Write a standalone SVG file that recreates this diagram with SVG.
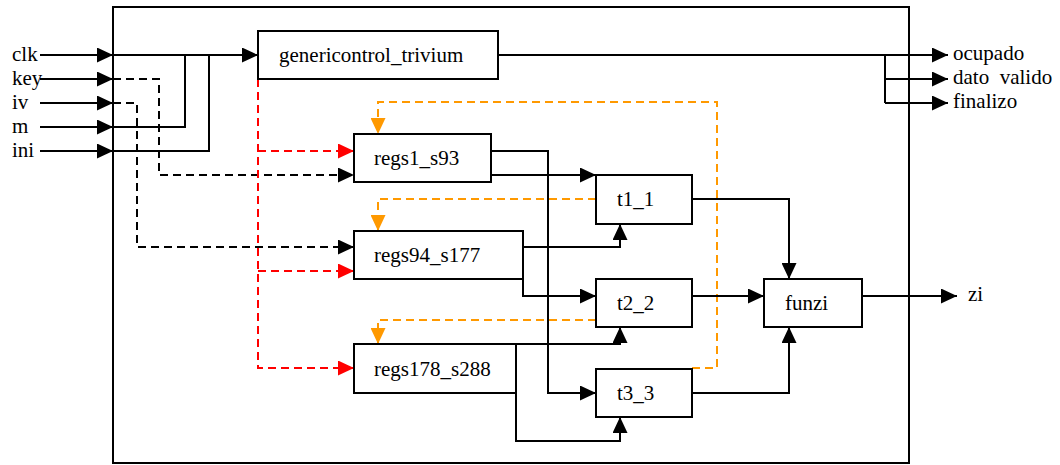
<svg xmlns="http://www.w3.org/2000/svg" width="1060" height="465" viewBox="0 0 1060 465" font-family="'Liberation Serif', serif">
<style>
text{font-family:'Liberation Serif',serif;font-size:21px;fill:#000;white-space:pre}
.box{fill:#fff;stroke:#000;stroke-width:2}
.w{fill:none;stroke:#000;stroke-width:2}
.kd{fill:none;stroke:#000;stroke-width:2;stroke-dasharray:8 5}
.rd{fill:none;stroke:#f00;stroke-width:2;stroke-dasharray:8 5}
.od{fill:none;stroke:#f90;stroke-width:2;stroke-dasharray:8 5}
</style>
<defs>
<marker id="ak" markerUnits="userSpaceOnUse" markerWidth="16" markerHeight="15" refX="16" refY="7.5" orient="auto"><path d="M0,0L16,7.5L0,15z" fill="#000"/></marker>
<marker id="ar" markerUnits="userSpaceOnUse" markerWidth="16" markerHeight="15" refX="16" refY="7.5" orient="auto"><path d="M0,0L16,7.5L0,15z" fill="#f00"/></marker>
<marker id="ao" markerUnits="userSpaceOnUse" markerWidth="16" markerHeight="15" refX="16" refY="7.5" orient="auto"><path d="M0,0L16,7.5L0,15z" fill="#f90"/></marker>
</defs>
<rect x="113" y="7" width="796" height="456" fill="#fff" stroke="#000" stroke-width="2"/>
<g id="connectors">
<path class="w" d="M40,55H113" marker-end="url(#ak)"/>
<path class="w" d="M40,79H113" marker-end="url(#ak)"/>
<path class="w" d="M40,103H113" marker-end="url(#ak)"/>
<path class="w" d="M40,127H113" marker-end="url(#ak)"/>
<path class="w" d="M40,151H113" marker-end="url(#ak)"/>
<path class="w" d="M113,55H258" marker-end="url(#ak)"/>
<path class="w" d="M113,127H185V55"/>
<path class="w" d="M113,151H209V55"/>
<path class="kd" d="M113,79H159V175H354" marker-end="url(#ak)"/>
<path class="kd" d="M113,103H137V247H354" marker-end="url(#ak)"/>
<path class="rd" d="M258,79V368H354" marker-end="url(#ar)"/>
<path class="rd" d="M258,151H354" marker-end="url(#ar)"/>
<path class="rd" d="M258,271H354" marker-end="url(#ar)"/>
<path class="od" d="M692,368H717V102H378V134" marker-end="url(#ao)"/>
<path class="od" d="M596,199H378V231" marker-end="url(#ao)"/>
<path class="od" d="M596,320H378V344" marker-end="url(#ao)"/>
<path class="w" d="M491,151H548V393H596" marker-end="url(#ak)"/>
<path class="w" d="M491,175H596" marker-end="url(#ak)"/>
<path class="w" d="M523,247H620V224" marker-end="url(#ak)"/>
<path class="w" d="M523,279V296H596" marker-end="url(#ak)"/>
<path class="w" d="M516,344H620V327" marker-end="url(#ak)"/>
<path class="w" d="M516,393V441H620V417" marker-end="url(#ak)"/>
<path class="w" d="M692,199H789V279" marker-end="url(#ak)"/>
<path class="w" d="M692,296H764" marker-end="url(#ak)"/>
<path class="w" d="M692,393H789V327" marker-end="url(#ak)"/>
<path class="w" d="M862,296H957" marker-end="url(#ak)"/>
<path class="w" d="M498,55H948" marker-end="url(#ak)"/>
<path class="w" d="M885,55V103"/>
<path class="w" d="M885,79H948" marker-end="url(#ak)"/>
<path class="w" d="M885,103H948" marker-end="url(#ak)"/>
</g>
<g id="inputs">
<text x="12" y="61">clk</text>
<text x="12" y="85">key</text>
<text x="12" y="109">iv</text>
<text x="12" y="133">m</text>
<text x="12" y="157">ini</text>
</g>
<g id="outputs">
<text x="953" y="60">ocupado</text>
<text x="953" y="84">dato  valido</text>
<text x="953" y="108">finalizo</text>
<text x="968" y="301">zi</text>
</g>
<g id="genericcontrol_trivium"><rect class="box" x="258" y="31" width="240" height="48"/><text x="279" y="62">genericontrol_trivium</text></g>
<g id="regs1_s93"><rect class="box" x="354" y="134" width="137" height="48"/><text x="374" y="165">regs1_s93</text></g>
<g id="regs94_s177"><rect class="box" x="354" y="231" width="169" height="48"/><text x="374" y="262">regs94_s177</text></g>
<g id="regs178_s288"><rect class="box" x="354" y="344" width="162" height="49"/><text x="374" y="376">regs178_s288</text></g>
<g id="t1_1"><rect class="box" x="596" y="175" width="96" height="49"/><text x="617" y="206">t1_1</text></g>
<g id="t2_2"><rect class="box" x="596" y="279" width="96" height="48"/><text x="617" y="310">t2_2</text></g>
<g id="t3_3"><rect class="box" x="596" y="369" width="96" height="48"/><text x="617" y="400">t3_3</text></g>
<g id="funzi"><rect class="box" x="764" y="279" width="98" height="48"/><text x="785" y="310">funzi</text></g>
</svg>
